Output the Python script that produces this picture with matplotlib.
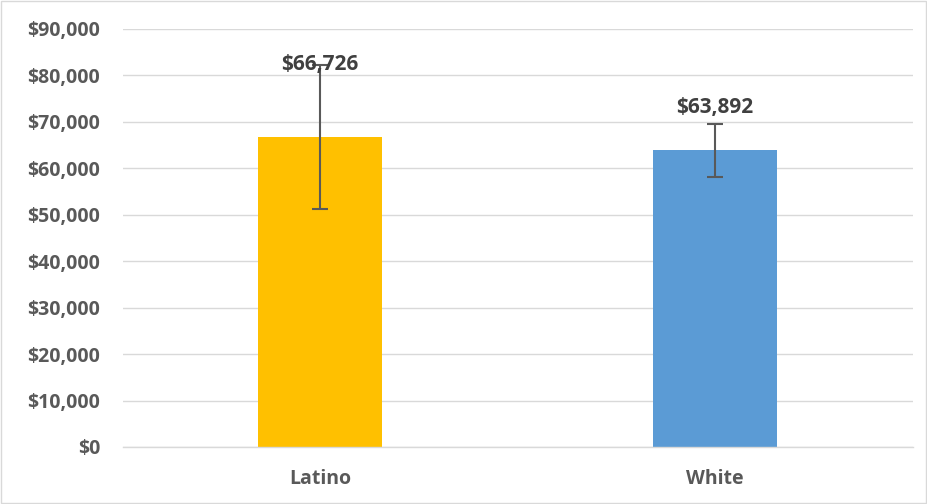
import matplotlib
matplotlib.use("Agg")
import matplotlib.pyplot as plt
from matplotlib.ticker import FuncFormatter, MultipleLocator
from matplotlib.patches import Rectangle

categories = ["Latino", "White"]
values = [66726, 63892]
errors = [15500, 5670]
colors = ["#FFC000", "#5B9BD5"]
label_offsets_px = [73, 43]

plt.rcParams['font.family'] = ['Open Sans', 'DejaVu Sans']
text_color = "#595959"

fig = plt.figure(figsize=(9.27, 5.04), dpi=100)
ax = fig.add_axes([0.1322, 0.1131, 0.8522, 0.8294])

x = list(range(len(categories)))
ax.bar(x, values, width=0.314, color=colors, zorder=2,
       yerr=errors, error_kw=dict(ecolor="#595959", elinewidth=1.5, capsize=6, capthick=1.5, zorder=3))

for xi, v, off in zip(x, values, label_offsets_px):
    ax.annotate(f"${v:,.0f}", xy=(xi, v), xytext=(0, off), textcoords="offset pixels",
                ha="center", va="center", fontsize=15, fontweight="bold", color="#404040", zorder=4)

ax.set_xlim(-0.5, 1.5)
ax.set_ylim(0, 90000)
ax.yaxis.set_major_locator(MultipleLocator(10000))
ax.yaxis.set_major_formatter(FuncFormatter(lambda v, p: f"${v:,.0f}"))
ax.set_xticks(x)
ax.set_xticklabels(categories)
ax.grid(axis="y", color="#D9D9D9", linewidth=1, zorder=0)
for s in ["top", "right", "left"]:
    ax.spines[s].set_visible(False)
ax.spines["bottom"].set_color("#D9D9D9")
ax.spines["bottom"].set_linewidth(1)
ax.tick_params(axis="both", length=0, labelcolor=text_color)
ax.tick_params(axis="y", labelsize=14, pad=16)
ax.tick_params(axis="x", labelsize=14, pad=16)
for lab in ax.get_xticklabels() + ax.get_yticklabels():
    lab.set_fontweight("bold")

fig.patches.append(Rectangle((0.0015, 0.002), 0.997, 0.996, transform=fig.transFigure,
                             fill=False, edgecolor="#D9D9D9", linewidth=1))

fig.savefig("out.png", dpi=100)
